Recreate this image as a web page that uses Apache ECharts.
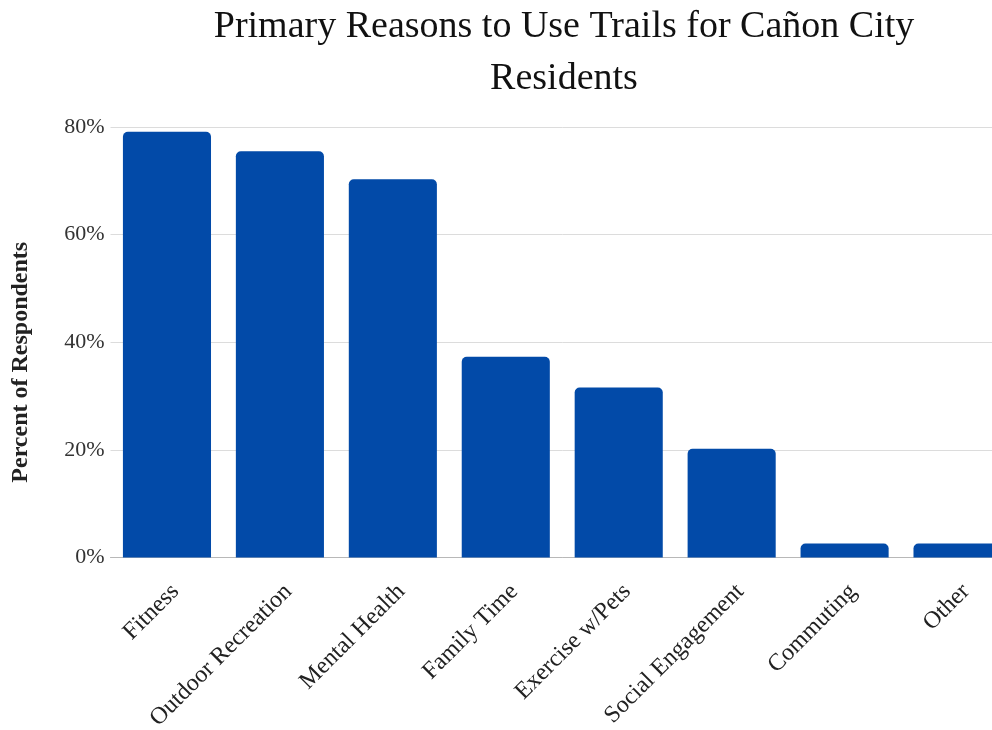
<!DOCTYPE html>
<html>
<head>
<meta charset="utf-8">
<script src="https://cdn.jsdelivr.net/npm/echarts@6/dist/echarts.min.js"></script>
<style>
  html, body { margin: 0; padding: 0; background: #ffffff; }
  body { width: 992px; height: 730px; overflow: hidden; }
  /* plot runs past the right edge, so the last bar is partly cut off */
  #chart { width: 1014px; height: 730px; }
</style>
</head>
<body>
<div id="chart"></div>
<script>
// Survey: primary reasons residents use trails (percent of respondents)
const categories = [
  'Fitness', 'Outdoor Recreation', 'Mental Health', 'Family Time',
  'Exercise w/Pets', 'Social Engagement', 'Commuting', 'Other'
];
const percentValues = [79.1, 75.5, 70.3, 37.3, 31.6, 20.2, 2.6, 2.6];
const yTicks = [0, 20, 40, 60, 80];

const serif = '"Liberation Serif", "DejaVu Serif", serif';
const chart = echarts.init(document.getElementById('chart'));

chart.setOption({
  animation: false,
  backgroundColor: '#ffffff',
  title: {
    text: 'Primary Reasons to Use Trails for Cañon City\nResidents',
    left: 559,
    textAlign: 'center',
    top: -4,
    textStyle: {
      fontFamily: serif,
      fontWeight: 'normal',
      fontSize: 38,
      lineHeight: 52,
      color: '#111111'
    }
  },
  grid: {
    left: 110.5,
    right: 0,
    top: 127,
    bottom: 172.5,
    containLabel: false,
    outerBoundsMode: 'none'
  },
  xAxis: {
    type: 'category',
    data: categories,
    axisTick: { show: false },
    axisLine: { lineStyle: { color: '#b8b8b8', width: 1 } },
    axisLabel: {
      rotate: 45,
      margin: 22,
      interval: 0,
      verticalAlign: 'top',
      fontFamily: serif,
      fontSize: 24,
      color: '#222222'
    }
  },
  yAxis: {
    type: 'value',
    min: yTicks[0],
    max: yTicks[yTicks.length - 1],
    interval: 20,
    name: 'Percent of Respondents',
    nameLocation: 'middle',
    nameGap: 78,
    nameRotate: 90,
    nameTextStyle: {
      fontFamily: serif,
      fontWeight: 'bold',
      fontSize: 24,
      color: '#222222',
      padding: [0, 40, 0, 0]
    },
    axisLine: { show: false },
    axisTick: { show: false },
    splitLine: { lineStyle: { color: '#dcdcdc', width: 1 } },
    axisLabel: {
      margin: 6,
      formatter: '{value}%',
      fontFamily: serif,
      fontSize: 22,
      color: '#333333'
    }
  },
  series: [{
    type: 'bar',
    data: percentValues,
    barCategoryGap: '22%',
    itemStyle: {
      color: '#024aa8',
      borderRadius: [5, 5, 0, 0]
    }
  }]
});
</script>
</body>
</html>
